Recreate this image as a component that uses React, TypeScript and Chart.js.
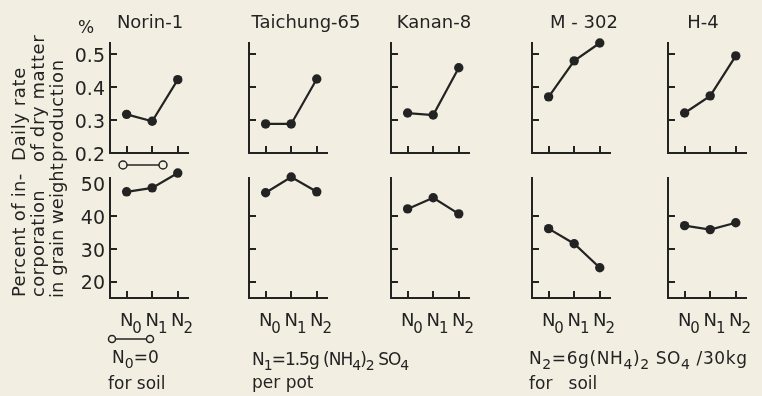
import React, { useEffect, useRef } from "react";
import { Chart, registerables } from "chart.js";

Chart.register(...registerables);

// ---------- data ----------
const varieties = ["Norin-1", "Taichung-65", "Kanan-8", "M - 302", "H-4"];
const nitrogenLevels = ["N0", "N1", "N2"];

// Daily rate of dry matter production (%)
const norin1DryMatter = [0.317, 0.296, 0.422];
const taichung65DryMatter = [0.288, 0.288, 0.424];
const kanan8DryMatter = [0.321, 0.315, 0.458];
const m302DryMatter = [0.37, 0.479, 0.533];
const h4DryMatter = [0.321, 0.373, 0.494];

// Percent of incorporation in grain weight
const norin1Incorporation = [47.3, 48.5, 53.0];
const taichung65Incorporation = [47.0, 51.8, 47.3];
const kanan8Incorporation = [42.1, 45.5, 40.6];
const m302Incorporation = [36.1, 31.5, 24.2];
const h4Incorporation = [37.0, 35.8, 37.9];

const dryMatterTickValues = [0.2, 0.3, 0.4, 0.5];
const incorporationTickValues = [20, 30, 40, 50];

const dryMatterSeries = [norin1DryMatter, taichung65DryMatter, kanan8DryMatter, m302DryMatter, h4DryMatter];
const incorporationSeries = [norin1Incorporation, taichung65Incorporation, kanan8Incorporation, m302Incorporation, h4Incorporation];

// ---------- style / layout ----------
const INK = "#232323";
const PAPER = "#f2eee1";
const FAMILY = "'DejaVu Sans', sans-serif";
const panelLefts = [110, 249, 391, 532, 668];
const titleCenters = [150, 306, 434, 584, 703];
const PANEL_W = 78;

type PanelProps = {
  values: number[];
  left: number;
  top: number;
  height: number;
  min: number;
  max: number;
  step: number;
  tickValues: number[];
  hiddenTicks: number[];
  showYLabels: boolean;
  showXLabels: boolean;
  decimals: number;
};

function makeLabelPlugin(show: boolean) {
  return {
    id: "nLabels",
    afterDraw(chart: any) {
      if (!show) return;
      const { ctx, chartArea } = chart;
      const x = chart.scales.x;
      ctx.save();
      ctx.fillStyle = INK;
      ctx.textBaseline = "alphabetic";
      x.ticks.forEach((t: any) => {
        const label = nitrogenLevels[Math.round(t.value)];
        if (!label) return;
        const px = x.getPixelForValue(t.value);
        const main = label.slice(0, 1);
        const sub = label.slice(1);
        ctx.font = `18px ${FAMILY}`;
        ctx.textAlign = "center";
        ctx.fillText(main, px, chartArea.bottom + 28);
        const w = ctx.measureText(main).width;
        ctx.font = `15px ${FAMILY}`;
        ctx.textAlign = "left";
        ctx.fillText(sub, px + w / 2 - 1, chartArea.bottom + 35);
      });
      ctx.restore();
    },
  };
}

function Panel(p: PanelProps) {
  const ref = useRef<HTMLCanvasElement>(null);
  const padL = 50;
  const padR = 14;
  const padT = 14;
  const padB = p.showXLabels ? 44 : 12;
  const yAxisW = p.showYLabels ? 44 : 0;
  const cw = PANEL_W + padL + padR;
  const ch = p.height + padT + padB;

  useEffect(() => {
    const chart = new Chart(ref.current as HTMLCanvasElement, {
      type: "line",
      data: {
        datasets: [
          {
            data: p.values.map((v, i) => ({ x: i, y: v })),
            borderColor: INK,
            backgroundColor: INK,
            borderWidth: 2.2,
            pointRadius: 4.7,
            pointHoverRadius: 20,
            pointBackgroundColor: INK,
            pointBorderColor: INK,
            pointBorderWidth: 0,
            tension: 0,
            clip: false,
          } as any,
        ],
      },
      options: {
        responsive: false,
        animation: false,
        events: [],
        layout: {
          padding: { left: padL - yAxisW, right: padR, top: padT, bottom: padB },
          autoPadding: false,
        } as any,
        plugins: {
          legend: { display: false },
          tooltip: { enabled: false },
          title: { display: false },
        },
        scales: {
          x: {
            type: "linear",
            min: -0.65,
            max: 2.4,
            afterFit: (s: any) => {
              s.height = 0;
              s.paddingLeft = 0;
              s.paddingRight = 0;
            },
            ticks: { display: false, stepSize: 1, includeBounds: false },
            grid: {
              display: true,
              drawOnChartArea: false,
              drawTicks: true,
              tickLength: -7,
              color: INK,
              lineWidth: 2,
            },
            border: { display: true, color: INK, width: 2 },
          },
          y: {
            type: "linear",
            min: p.min,
            max: p.max,
            afterFit: (s: any) => {
              s.width = yAxisW;
              s.paddingTop = 0;
              s.paddingBottom = 0;
            },
            afterBuildTicks: (s: any) => {
              s.ticks = p.tickValues.map((v) => ({ value: v }));
            },
            ticks: {
              display: p.showYLabels,
              stepSize: p.step,
              includeBounds: false,
              padding: 12,
              labelOffset: 3,
              color: INK,
              font: { family: FAMILY, size: 19 },
              callback: (v: any) => Number(v).toFixed(p.decimals),
            },
            grid: {
              display: true,
              drawOnChartArea: false,
              drawTicks: true,
              tickLength: -7,
              lineWidth: 2,
              color: (ctx: any) =>
                ctx.tick && p.hiddenTicks.includes(ctx.tick.value) ? "rgba(0,0,0,0)" : INK,
            },
            border: { display: true, color: INK, width: 2 },
          },
        },
      },
      plugins: [makeLabelPlugin(p.showXLabels)],
    } as any);
    return () => chart.destroy();
  }, []);

  return (
    <canvas
      ref={ref}
      width={cw}
      height={ch}
      style={{
        position: "absolute",
        left: p.left - padL,
        top: p.top - padT,
        width: cw,
        height: ch,
      }}
    />
  );
}

const Sub = ({ children }: { children: React.ReactNode }) => (
  <span style={{ fontSize: 14, position: "relative", top: 5 }}>{children}</span>
);

export default function App() {
  const textStyle: React.CSSProperties = {
    position: "absolute",
    fontFamily: FAMILY,
    fontSize: 17,
    lineHeight: "20px",
    color: INK,
    whiteSpace: "pre",
  };
  return (
    <div
      style={{
        position: "fixed",
        left: 0,
        top: 0,
        width: 762,
        height: 396,
        background: PAPER,
        overflow: "hidden",
      }}
    >
      {dryMatterSeries.map((vals, i) => (
        <Panel
          key={"top" + i}
          values={vals}
          left={panelLefts[i]}
          top={43}
          height={110}
          min={0.2}
          max={0.533}
          step={0.1}
          tickValues={dryMatterTickValues}
          hiddenTicks={[]}
          showYLabels={i === 0}
          showXLabels={false}
          decimals={1}
        />
      ))}
      {incorporationSeries.map((vals, i) => (
        <Panel
          key={"bot" + i}
          values={vals}
          left={panelLefts[i]}
          top={178}
          height={120}
          min={15}
          max={51.5}
          step={10}
          tickValues={incorporationTickValues}
          hiddenTicks={[50]}
          showYLabels={i === 0}
          showXLabels={true}
          decimals={0}
        />
      ))}

      <svg
        width={762}
        height={396}
        style={{ position: "absolute", left: 0, top: 0, pointerEvents: "none" }}
        fontFamily={FAMILY}
        fill={INK}
      >
        {varieties.map((v, i) => (
          <text key={v} x={titleCenters[i]} y={28} fontSize={18} textAnchor="middle">
            {v}
          </text>
        ))}
        <text x={78} y={33} fontSize={17}>%</text>

        <g fontSize={18} letterSpacing={0.6}>
          <text transform="translate(25,161) rotate(-90)">Daily rate</text>
          <text transform="translate(44,162) rotate(-90)">of dry matter</text>
          <text transform="translate(63,162) rotate(-90)">production</text>
        </g>
        <g fontSize={18} letterSpacing={0.3}>
          <text transform="translate(25,297) rotate(-90)">Percent of in-</text>
          <text transform="translate(44,297) rotate(-90)">corporation</text>
          <text transform="translate(63,298) rotate(-90)" letterSpacing={0}>in grain weight</text>
        </g>

        <g stroke={INK} strokeWidth={1.5} fill={PAPER}>
          <line x1={127} y1={165} x2={159} y2={165} />
          <circle cx={123} cy={165} r={4} />
          <circle cx={163} cy={165} r={4} />
          <line x1={115.5} y1={339} x2={146.5} y2={339} />
          <circle cx={112} cy={339} r={3.5} />
          <circle cx={150} cy={339} r={3.5} />
        </g>
      </svg>

      <div style={{ ...textStyle, left: 112, top: 347 }}>
        N<Sub>0</Sub>=0
      </div>
      <div style={{ ...textStyle, left: 108, top: 373 }}>for soil</div>

      <div style={{ ...textStyle, left: 252, top: 349, letterSpacing: -1 }}>
        N<Sub>1</Sub>=1.5g (NH<Sub>4</Sub>)<Sub>2</Sub> SO<Sub>4</Sub>
      </div>
      <div style={{ ...textStyle, left: 252, top: 372 }}>per pot</div>

      <div style={{ ...textStyle, left: 529, top: 348, letterSpacing: 0.6 }}>
        N<Sub>2</Sub>=6g(NH<Sub>4</Sub>)<Sub>2</Sub> SO<Sub>4</Sub> /30kg
      </div>
      <div style={{ ...textStyle, left: 529, top: 373 }}>{"for   soil"}</div>
    </div>
  );
}
